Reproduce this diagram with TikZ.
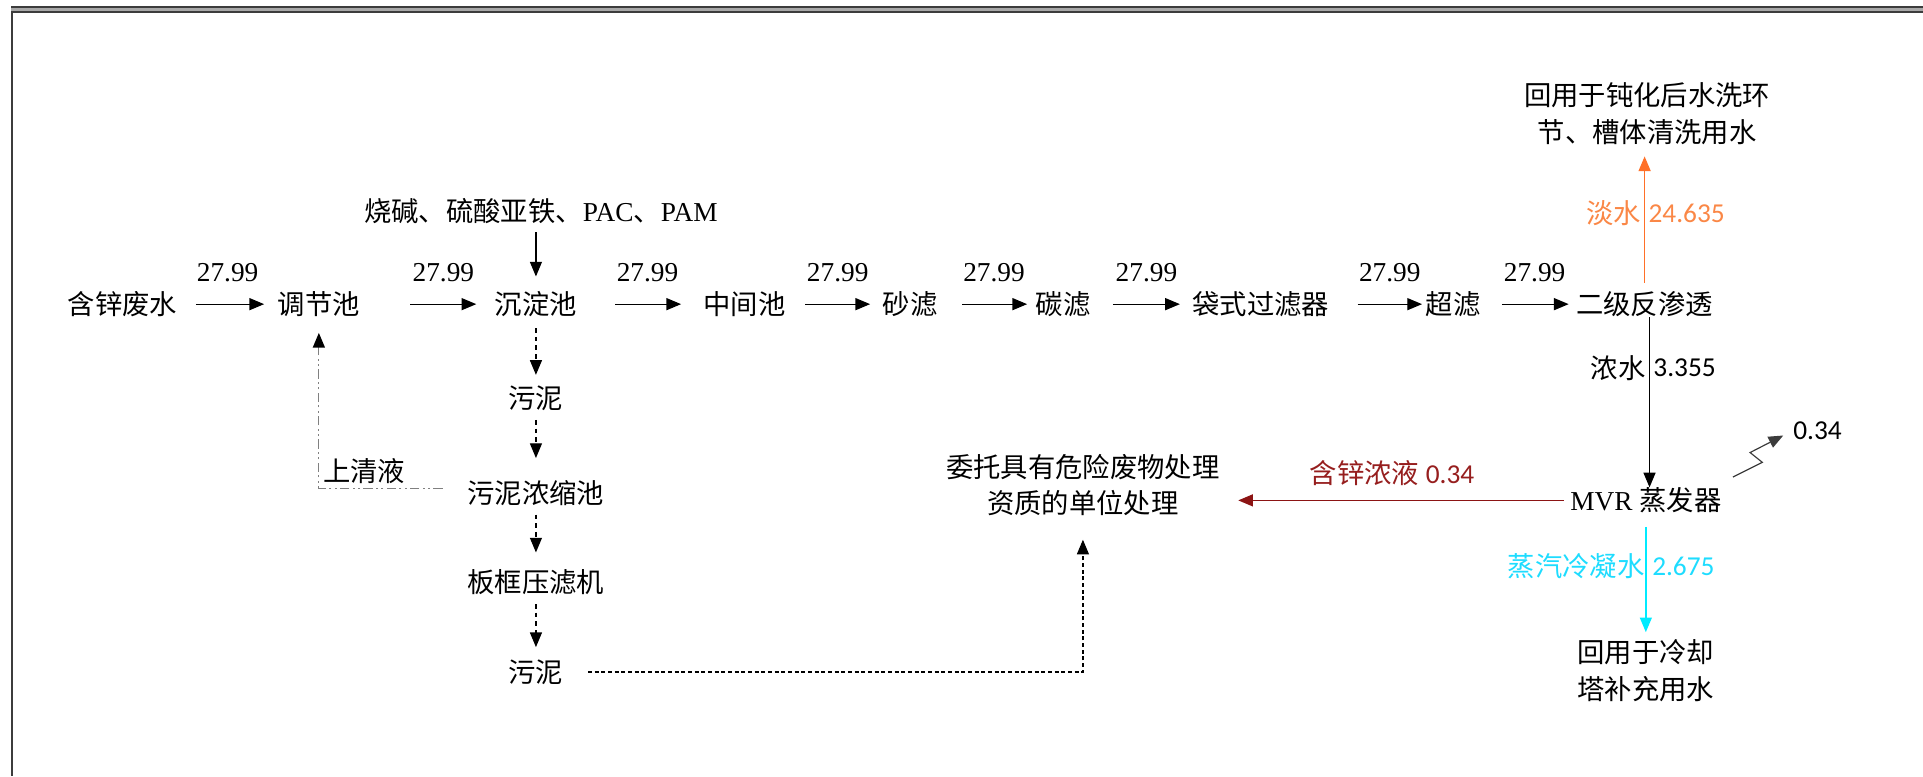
\documentclass[tikz,border=0pt]{standalone}
\usepackage{fontspec}
\setmainfont{Liberation Serif}
\newfontfamily\cjk{Noto Sans CJK SC}
\newfontfamily\calf{Carlito}
\usetikzlibrary{arrows.meta}
\def\U{0.9198pt}
\definecolor{bdark}{RGB}{60,60,60}
\definecolor{bgrey}{RGB}{168,168,168}
\definecolor{orgline}{RGB}{255,112,40}
\definecolor{orgtext}{RGB}{250,135,70}
\definecolor{dred}{RGB}{140,20,20}
\definecolor{dredtext}{RGB}{150,30,30}
\definecolor{cyline}{RGB}{0,235,255}
\definecolor{cytext}{RGB}{30,220,255}
\begin{document}
\begin{tikzpicture}[x=\U,y=-\U,
  every node/.style={inner sep=0pt, font=\fontsize{20.5pt}{27.6pt}\selectfont},
  tipa/.style={-{Triangle[length=11pt,width=9pt]}},
  flow/.style={draw=black, line width=0.9pt, tipa},
  flowd/.style={flow, dash pattern=on 3.5pt off 3pt},
  clearline/.style={draw=gray, line width=0.9pt,
     dash pattern=on 7pt off 2.5pt on 1.5pt off 2.5pt on 1.5pt off 2.5pt,
     -{Triangle[length=11pt,width=9pt,color=black]}},
  orgflow/.style={draw=orgline, line width=1pt, tipa},
  redflow/.style={draw=dred, line width=1pt, tipa},
  cyflow/.style={draw=cyline, line width=1pt, tipa},
  val/.style={midway, above=16pt}]
\useasboundingbox (0,0) rectangle (1568,633);
% page border
\draw[bdark, line width=1.6*\U] (9,5.7) -- (1568,5.7);
\draw[bgrey, line width=2.4*\U] (9,7.7) -- (1568,7.7);
\draw[bdark, line width=1.6*\U] (9,9.8) -- (1568,9.8);
\draw[bdark, line width=1.6*\U] (9.8,9) -- (9.8,633);

% main row
\node (waste) at (100,248) {\cjk 含锌废水};
\node (tiaojie) at (260,248) {\cjk 调节池};
\node (chendian) at (437,248) {\cjk 沉淀池};
\node (zhongjian) at (607,248) {\cjk 中间池};
\node (shalv) at (742,248) {\cjk 砂滤};
\node (tanlv) at (867,248) {\cjk 碳滤};
\node (daishi) at (1028,248) {\cjk 袋式过滤器};
\node (chaolv) at (1185,248) {\cjk 超滤};
\node (ro) at (1341,248) {\cjk 二级反渗透};

\node (chem) at (441,172) {{\cjk 烧碱、硫酸亚铁、}PAC{\cjk 、}PAM};
\node[align=center] (reuse1) at (1343,93) {\cjk 回用于钝化后水洗环\\\cjk 节、槽体清洗用水};
\node (mvr) at (1342,408) {MVR {\cjk 蒸发器}};
\node[align=center] (weituo) at (883,395.5) {\cjk 委托具有危险废物处理\\\cjk 资质的单位处理};
\node[align=center] (reuse2) at (1342,547) {\cjk 回用于冷却\\\cjk 塔补充用水};
\node (out034) at (1482,351) {\calf 0.34};

\node (wuni1) at (437,325) {\cjk 污泥};
\node (nongsuo) at (437,402) {\cjk 污泥浓缩池};
\node (bankuang) at (437,475) {\cjk 板框压滤机};
\node (wuni2) at (437,548) {\cjk 污泥};

% main flow arrows
\draw[flow, shorten <=15*\U, shorten >=11*\U] (waste) -- (tiaojie) node[val]{27.99};
\draw[flow, shorten <=41*\U, shorten >=15*\U] (tiaojie) -- (chendian) node[val, xshift=13*\U]{27.99};
\draw[flow, shorten <=31*\U, shorten >=18*\U] (chendian) -- (zhongjian) node[val, xshift=6*\U]{27.99};
\draw[flow, shorten <=16*\U, shorten >=10*\U] (zhongjian) -- (shalv) node[val, xshift=3*\U]{27.99};
\draw[flow, shorten <=20*\U, shorten >=7*\U] (shalv) -- (tanlv) node[val, xshift=6*\U]{27.99};
\draw[flow, shorten <=18*\U, shorten >=10*\U] (tanlv) -- (daishi) node[val, xshift=4*\U]{27.99};
\draw[flow, shorten <=23*\U, shorten >=3*\U] (daishi) -- (chaolv) node[val, xshift=10*\U]{27.99};
\draw[flow, shorten <=17*\U, shorten >=6*\U] (chaolv) -- (ro) node[val, xshift=5*\U]{27.99};

% chemicals
\draw[flow, shorten <=7*\U, shorten >=12*\U] (chendian |- chem.south) -- (chendian);

% orange: fresh water
\draw[orgflow, shorten <=7*\U, shorten >=9*\U] (ro) -- (ro |- reuse1.south);
\node[anchor=east, text=orgtext] (lab1) at (1338,174) {\cjk 淡水};
\node[anchor=west, text=orgtext] (lab1b) at (1344,174) {\calf 24.635};

% concentrate to MVR
\draw[flow] ([xshift=4*\U]ro.south) -- ([xshift=4*\U]ro.south |- mvr.north);
\node[anchor=east] (lab2) at (1342,300) {\cjk 浓水};
\node[anchor=west] (lab2b) at (1348,300) {\calf 3.355};

% red: zinc concentrate
\draw[redflow, shorten <=5*\U, shorten >=15*\U] (mvr.west) -- (weituo.east |- mvr.west);
\node[text=dredtext] (lab3) at (1135,386) {{\cjk 含锌浓液} \calf 0.34};

% cyan: condensate
\draw[cyflow, shorten <=11*\U, shorten >=6*\U] (mvr) -- (reuse2);
\node[anchor=east, text=cytext] (lab4) at (1341,462) {\cjk 蒸汽冷凝水};
\node[anchor=west, text=cytext] (lab4b) at (1347,462) {\calf 2.675};

% zigzag
\coordinate (z0) at (1413,389);
\draw[draw=bdark, line width=0.9pt, tipa, shorten >=9*\U] (z0) -- (1437,377) -- (1427,369) -- (out034.west);

% sludge line
\draw[flowd, shorten <=9*\U, shorten >=9*\U] (chendian) -- (wuni1);
\draw[flowd, shorten <=7*\U, shorten >=18*\U] (wuni1) -- (nongsuo);
\draw[flowd, shorten <=7*\U, shorten >=14*\U] (nongsuo) -- (bankuang);
\draw[flowd, shorten <=7*\U, shorten >=10*\U] (bankuang) -- (wuni2);

% supernatant
\draw[clearline, shorten <=20*\U, shorten >=13*\U] ([yshift=4*\U]nongsuo.west) -| (tiaojie);
\node (lab5) at (297,384) {\cjk 上清液};

% sludge to disposal
\draw[flowd, dash pattern=on 3pt off 2pt, shorten <=20*\U, shorten >=19*\U] (wuni2) -| (weituo);
\end{tikzpicture}
\end{document}
